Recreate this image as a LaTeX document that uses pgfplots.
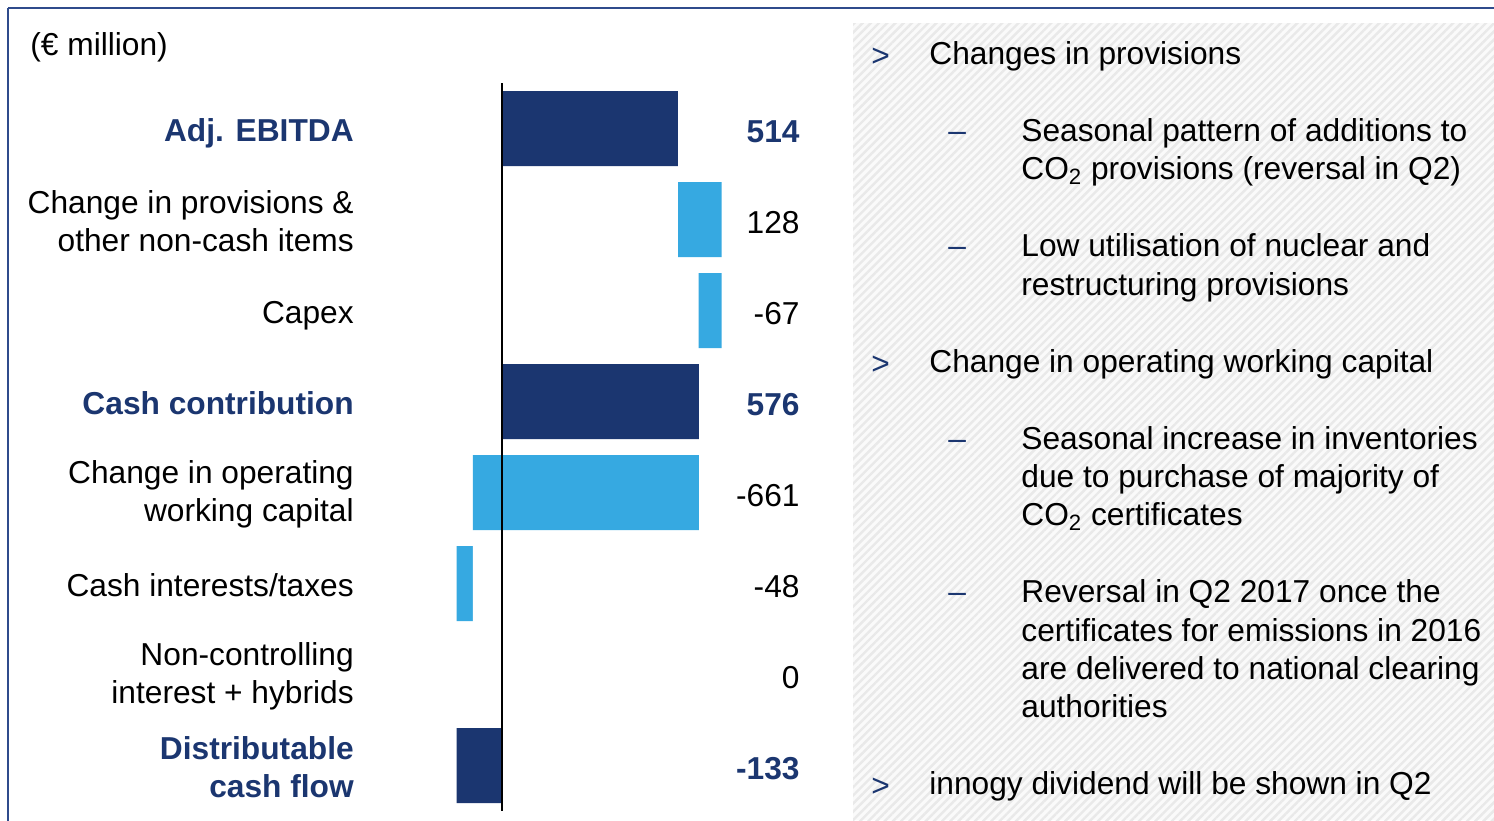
\documentclass[border=0pt]{standalone}
\usepackage{fontspec}
\setmainfont{Liberation Sans}
\usepackage{pgfplots}
\pgfplotsset{compat=1.18}
\usetikzlibrary{patterns.meta}
\definecolor{navy}{RGB}{27,54,112}
\definecolor{lblue}{RGB}{54,169,225}
\definecolor{framec}{RGB}{47,75,140}
\newcommand\fs{\fontsize{15.85}{19.15}\selectfont}
\newcommand\nb[1]{{\bfseries\color{navy}#1}}
\newcommand\nd[1]{\raisebox{0pt}[\height][0pt]{#1}}
\begin{document}
\begin{tikzpicture}[font=\fs]
\useasboundingbox (0pt,0pt) rectangle (747pt,-410pt);
\begin{scope}[x=0.5pt,y=-0.5pt]
\fill[white] (0,0) rectangle (1494,820);
\fill[gray!4] (853,23) rectangle (1494,820);
\fill[pattern={Lines[angle=45,distance=2.9pt,line width=1.2pt]}, pattern color=gray!17] (853,23) rectangle (1494,820);
\draw[framec, line width=0.8pt] (8,8) -- (1510,8) (8,8) -- (8,830);
\end{scope}

\begin{axis}[
  at={(216.8pt,-41.5pt)}, anchor=north west,
  scale only axis, width=162.45pt, height=364pt,
  xmin=-200, xmax=750, ymin=-0.5, ymax=7.5, y dir=reverse,
  xbar, bar width=37.5pt, bar shift=0pt,
  axis on top,
  axis line style={draw=none},
  xtick=\empty, ytick={0,...,7}, major tick length=0pt,
  yticklabels={\nd{\nb{Adj. EBITDA}},
    {Change in provisions \&\\other non-cash items},
    \nd{Capex},
    \nd{\nb{Cash contribution}},
    {Change in operating\\working capital},
    \nd{Cash interests/taxes},
    {Non-controlling\\interest + hybrids},
    {\nb{Distributable}\\\nb{cash flow}}},
  yticklabel style={font=\fs, align=right, inner sep=0pt, xshift=-39.75pt, yshift=-1pt},
  extra x ticks={0}, extra x tick labels={},
  extra x tick style={grid=major, major grid style={black, line width=0.9pt}},
  clip=false]
% changes (light): bar ends measured from zero
\addplot[draw=none, fill=lblue] coordinates {(642,1) (642,2) (576,4) (-85,4) (-133,5)};
% start points of the floating changes (masked part)
\addplot[draw=none, fill=white, bar width=39.5pt] coordinates {(514,1) (575,2) (-85,5)};
% totals (dark)
\addplot[draw=none, fill=navy] coordinates {(514,0) (576,3) (-133,7)};

\begin{scope}[every node/.style={anchor=east, inner sep=0pt, yshift=-1.5pt}]
\node[font=\fs\bfseries, text=navy] at (axis cs:871.3,0) {514};
\node at (axis cs:871.3,1) {128};
\node at (axis cs:871.3,2) {-67};
\node[font=\fs\bfseries, text=navy] at (axis cs:871.3,3) {576};
\node at (axis cs:871.3,4) {-661};
\node at (axis cs:871.3,5) {-48};
\node at (axis cs:871.3,6) {0};
\node[font=\fs\bfseries, text=navy] at (axis cs:871.3,7) {-133};
\end{scope}
\end{axis}

\begin{scope}[x=0.5pt,y=-0.5pt,every node/.style={anchor=base west, inner sep=0pt}]
\node at (30,55) {(€ million)};
\node[text=navy] at (871,66) {>};
\node at (929,64) {Changes in provisions};
\node[text=navy] at (948,141) {–};
\node at (1021,141) {Seasonal pattern of additions to};
\node at (1021,179) {CO\textsubscript{2} provisions (reversal in Q2)};
\node[text=navy] at (948,256) {–};
\node at (1021,256) {Low utilisation of nuclear and};
\node at (1021,295) {restructuring provisions};
\node[text=navy] at (871,374) {>};
\node at (929,372) {Change in operating working capital};
\node[text=navy] at (948,449) {–};
\node at (1021,449) {Seasonal increase in inventories};
\node at (1021,487) {due to purchase of majority of};
\node at (1021,525) {CO\textsubscript{2} certificates};
\node[text=navy] at (948,602) {–};
\node at (1021,602) {Reversal in Q2 2017 once the};
\node at (1021,641) {certificates for emissions in 2016};
\node at (1021,679) {are delivered to national clearing};
\node at (1021,717) {authorities};
\node[text=navy] at (871,796) {>};
\node at (929,794) {innogy dividend will be shown in Q2};
\end{scope}
\end{tikzpicture}
\end{document}
